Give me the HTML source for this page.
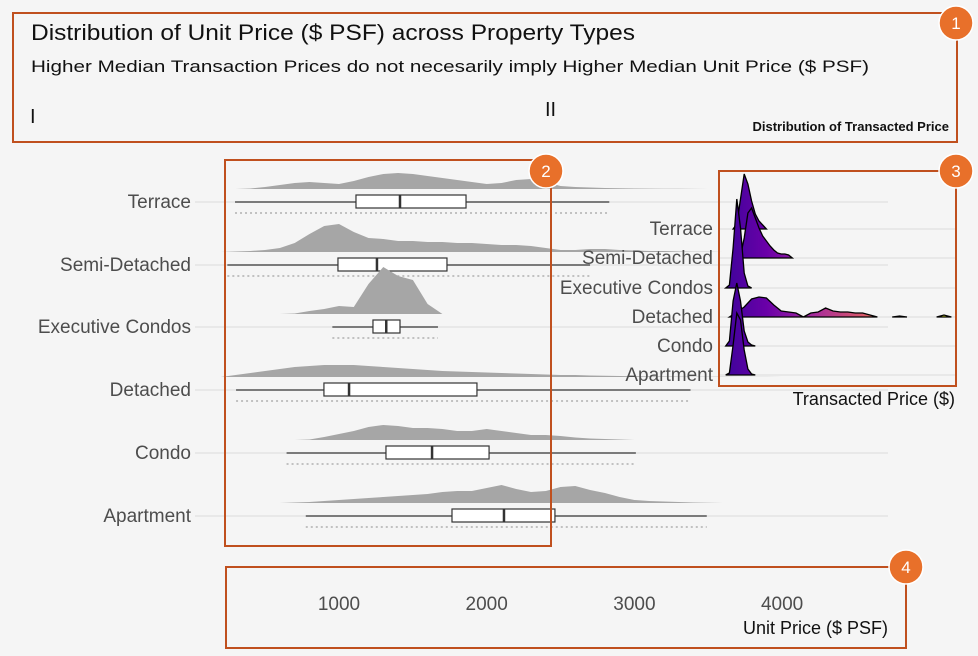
<!DOCTYPE html>
<html><head><meta charset="utf-8"><style>
html,body{margin:0;padding:0;background:#f5f5f5;}
svg{display:block;font-family:"Liberation Sans",Arial,sans-serif;}
</style></head><body>
<svg id="chart" width="978" height="656" viewBox="0 0 978 656">
<defs>
<linearGradient id="plasma" gradientUnits="userSpaceOnUse" x1="722" y1="0" x2="945" y2="0">
<stop offset="0" stop-color="#3b049a"/><stop offset="0.2" stop-color="#6a00a8"/><stop offset="0.4" stop-color="#a3289e"/>
<stop offset="0.63" stop-color="#d8576b"/><stop offset="0.74" stop-color="#f48849"/><stop offset="1" stop-color="#f0f921"/>
</linearGradient>
</defs>
<rect x="0" y="0" width="978" height="656" fill="#f5f5f5"/>
<g id="grid"></g>
<g id="main"></g>
<g id="inset"></g>

<text x="31" y="40" font-size="22" fill="#111" textLength="604" lengthAdjust="spacingAndGlyphs">Distribution of Unit Price ($ PSF) across Property Types</text>
<text x="31" y="72" font-size="17" fill="#111" textLength="838" lengthAdjust="spacingAndGlyphs">Higher Median Transaction Prices do not necesarily imply Higher Median Unit Price ($ PSF)</text>
<text x="30" y="123" font-size="20" fill="#111">I</text>
<text x="545" y="116" font-size="20" fill="#111">II</text>
<text x="949" y="131" font-size="13" font-weight="bold" fill="#111" text-anchor="end">Distribution of Transacted Price</text>
<text x="888" y="634" font-size="18" fill="#111" text-anchor="end">Unit Price ($ PSF)</text>
<text x="955" y="405" font-size="18" fill="#111" text-anchor="end">Transacted Price ($)</text>

<g fill="none" stroke="#c0501e" stroke-width="2">
<rect x="13" y="13" width="944" height="129"/>
<rect x="225" y="160" width="326" height="386"/>
<rect x="719" y="171" width="237" height="215"/>
<rect x="226" y="567" width="680" height="81"/>
</g>
<g font-size="17" fill="#fff" text-anchor="middle">
<circle cx="956" cy="23" r="17" fill="#e8702a" stroke="#fff" stroke-width="1.5"/><text x="956" y="29">1</text>
<circle cx="546" cy="171" r="17" fill="#e8702a" stroke="#fff" stroke-width="1.5"/><text x="546" y="177">2</text>
<circle cx="956" cy="171" r="17" fill="#e8702a" stroke="#fff" stroke-width="1.5"/><text x="956" y="177">3</text>
<circle cx="906" cy="567" r="17" fill="#e8702a" stroke="#fff" stroke-width="1.5"/><text x="906" y="573">4</text>
</g>
</svg>
<script>
// ---- main chart data ----
var categories = ["Terrace","Semi-Detached","Executive Condos","Detached","Condo","Apartment"];
var xTicks = [1000,2000,3000,4000];
var densityGridStep = 100; // $PSF step, grid from 0
var densTerrace = [0,0,0,0,0.5,2,4,6,7,6,5,8,12,15,16,15,13,11,9,7,5,6,9,10,7,3,2,1.5,1,0.7,0.5,0.4,0.3,0.2,0.1,0,0,0,0,0,0];
var densSemi = [0,0,0,0.5,1,2,4,9,18,26,28,20,14,13,11,11,10,10,9,9,8,7,7,6,4,2,2,3,3,2,1.5,1,1,0.5,0.3,0.2,0,0,0,0,0];
var densEC = [0,0,0,0,0,0,0,0.5,3,5,8,7,30,47,38,34,10,0,0,0,0,0,0,0,0,0,0,0,0,0,0,0,0,0,0,0,0,0,0,0,0];
var densDetached = [0,0,0,2,4,6,8,10,11,12,12,12,11,10,9,8,7,6,5.5,5,4.5,4,3.5,3,2.5,2,2,1.5,1.2,1,0.8,0.6,0.5,0.4,0.3,0.2,0.2,0.1,0.1,0.1,0];
var densCondo = [0,0,0,0,0,0,0,0,0.5,3,6,9,13,15,14,12,12,11,9,9,11,9,7,5,5,4,2.5,1.5,1,0.5,0,0,0,0,0,0,0,0,0,0,0];
var densApartment = [0,0,0,0,0,0,0,0.5,1,2,3,4,5,6,7,8,9,11,12,12,15,18,14,11,12,16,17,13,10,6,3,2,1.5,1,0.5,0.2,0,0,0,0,0];
var whiskerLow  = [296,244,955,303,645,775];
var q1          = [1115,993,1230,898,1318,1765];
var medians     = [1413,1257,1320,1068,1630,2117];
var q3          = [1860,1731,1413,1934,2016,2462];
var whiskerHigh = [2830,2700,1670,3380,3010,3490];
// ---- inset data (transacted price, $M) ----
var insetNarrowStep = 0.5;
var insTerrace  = [0,0,0,0,5,30,55,45,28,15,8,4,0,0,0,0,0,0,0,0,0,0,0,0,0];
var insSemi     = [0,0,0,0,0,2,20,45,50,40,30,22,17,12,8,5,4,4,3,0,0,0,0,0,0];
var insEC       = [0,0,3,40,89,60,15,2,0,0,0,0,0,0,0,0,0,0,0,0,0,0,0,0,0];
var insCondo    = [0,0,5,45,63,45,15,4,1,0,0,0,0,0,0,0,0,0,0,0,0,0,0,0,0];
var insApartment= [0,0,2,30,62,55,25,6,1,0,0,0,0,0,0,0,0,0,0,0,0,0,0,0,0];
var insetWideStep = 1;
var insDetached = [0,0,5,10,18,20,19,12,6,5,4,0,4,5,9,6,5,5,4,4,2,0,0,0,1,0,0,0,0,0,2,0];

var NS="http://www.w3.org/2000/svg";
function mk(tag,attrs,parent){var e=document.createElementNS(NS,tag);for(var k in attrs)e.setAttribute(k,attrs[k]);parent.appendChild(e);return e;}
function xScale(v){return 339+(v-1000)*0.1477;}
function xInset(v){return 722+v*7.4;}
var rowY=[202,265,327,390,453,516];
var insetY=[229,258,288,317,346,375];
var grid=document.getElementById('grid'), main=document.getElementById('main'), inset=document.getElementById('inset');

rowY.forEach(function(y){
  var l=mk('line',{x1:195,x2:888,y1:y,y2:y,stroke:'#dcdcdc','stroke-width':1},grid);
  
  
});
insetY.forEach(function(y){
  var l=mk('line',{x1:720,x2:955,y1:y,y2:y,stroke:'#dcdcdc','stroke-width':1},grid);
  
  
});

xTicks.forEach(function(t){
  var tx=mk('text',{x:xScale(t),y:610,'font-size':19,fill:'#4d4d4d','text-anchor':'middle'},main);
  tx.textContent=t;
  
  
});

var mainDens=[densTerrace,densSemi,densEC,densDetached,densCondo,densApartment];
categories.forEach(function(c,i){
  var y=rowY[i], base=y-13;
  var d=mainDens[i];
  var first=-1,last=-1;
  d.forEach(function(v,j){if(v>0){if(first<0)first=j;last=j;}});
  var s=Math.max(0,first-1), e=Math.min(d.length-1,last+1);
  var p='M'+xScale(s*densityGridStep)+','+base;
  for(var j=s;j<=e;j++){p+=' L'+xScale(j*densityGridStep).toFixed(1)+','+(base-d[j]).toFixed(1);}
  p+=' L'+xScale(e*densityGridStep)+','+base+' Z';
  var slug=c.toLowerCase().replace(/ /g,'-');
  var dp=mk('path',{d:p,fill:'#a6a6a6'},main);
  
  
  var rug=mk('line',{x1:xScale(whiskerLow[i]),x2:xScale(whiskerHigh[i]),y1:y+11,y2:y+11,stroke:'#b0b0b0','stroke-width':1.5,'stroke-dasharray':'2 3'},main);
  
  
  var w=mk('line',{x1:xScale(whiskerLow[i]),x2:xScale(whiskerHigh[i]),y1:y,y2:y,stroke:'#333','stroke-width':1.3},main);
  
  
  var b=mk('rect',{x:xScale(q1[i]),y:y-7,width:xScale(q3[i])-xScale(q1[i]),height:13,fill:'#fff',stroke:'#333','stroke-width':1.2},main);
  
  
  var m=mk('line',{x1:xScale(medians[i]),x2:xScale(medians[i]),y1:y-7,y2:y+6,stroke:'#333','stroke-width':2.5},main);
  
  
  var lb=mk('text',{x:191,y:y+6,'font-size':19,fill:'#4d4d4d','text-anchor':'end'},main);
  lb.textContent=c;
  
  
});

var insDens=[insTerrace,insSemi,insEC,insDetached,insCondo,insApartment];
var insStep=[insetNarrowStep,insetNarrowStep,insetNarrowStep,insetWideStep,insetNarrowStep,insetNarrowStep];
categories.forEach(function(c,i){
  var base=insetY[i], d=insDens[i], st=insStep[i];
  var segs=[],cur=null;
  for(var j=0;j<d.length;j++){
    if(d[j]>0){ if(!cur){cur=[Math.max(0,j-1)];segs.push(cur);} cur[1]=Math.min(d.length-1,j+1);} else cur=null;
  }
  segs.forEach(function(sg){
    var p='M'+xInset(sg[0]*st)+','+base;
    for(var j=sg[0];j<=sg[1];j++){p+=' L'+xInset(j*st).toFixed(1)+','+(base-d[j]).toFixed(1);}
    p+=' L'+xInset(sg[1]*st)+','+base;
    var rp=mk('path',{d:p+' Z',fill:'url(#plasma)',stroke:'#000','stroke-width':1.3},inset);
    
    
  });
});
categories.forEach(function(c,i){
  var lb=mk('text',{x:713,y:insetY[i]+6,'font-size':19,fill:'#4d4d4d','text-anchor':'end'},inset);
  lb.textContent=c;
  
  
});
</script>
</body></html>
